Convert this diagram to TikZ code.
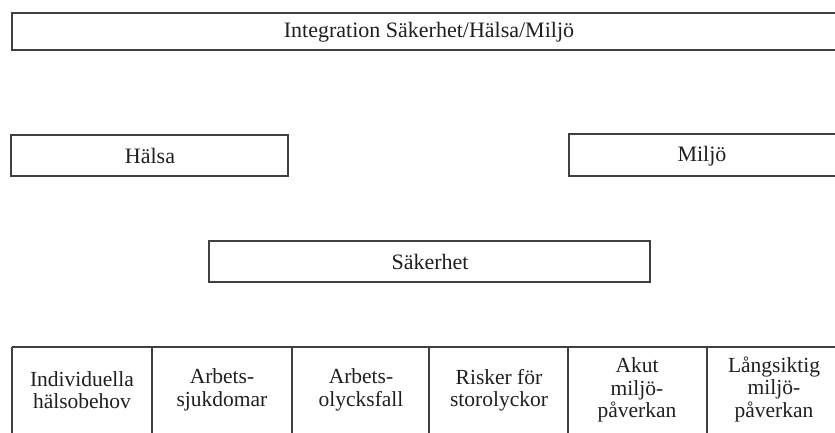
\documentclass[tikz,border=0pt]{standalone}
\usepackage{fontspec}
\setmainfont{Liberation Serif}
\begin{document}
\begin{tikzpicture}[x=1pt,y=-1pt,
  boxline/.style={draw=black!75,line width=2pt},
  lbl/.style={font=\fontsize{22}{23}\selectfont,text=black!88,align=center,inner sep=0pt},
  celltxt/.style={font=\fontsize{21.5}{22.5}\selectfont,text=black!88,align=center,inner sep=0pt}]
\useasboundingbox (0,0) rectangle (835,432);
\clip (0,0) rectangle (835,432);
% top box
\draw[boxline] (12,13) rectangle (860,50);
\node[lbl] (integ) at (429,32) {Integration Säkerhet/Hälsa/Miljö};
% Hälsa
\draw[boxline] (11,135) rectangle (288,176);
\node[lbl] (halsa) at (150,156) {Hälsa};
% Miljö
\draw[boxline] (569,134) rectangle (860,176);
\node[lbl] (miljo) at (702,156) {Miljö};
% Säkerhet
\draw[boxline] (209,241) rectangle (650,282);
\node[lbl] (saker) at (430,262) {Säkerhet};
% bottom row
\draw[boxline] (12,347) -- (860,347);
\foreach \xx in {12,152,292,429,568,707} {
  \draw[boxline] (\xx,347) -- (\xx,440);
}
\node[celltxt] (c1) at (82,390) {Individuella\\hälsobehov};
\node[celltxt] (c2) at (222,390) {Arbets-\\sjukdomar};
\node[celltxt] (c3) at (361,390) {Arbets-\\olycksfall};
\node[celltxt] (c4) at (499,390) {Risker för\\storolyckor};
\node[celltxt] (c5) at (637,390) {Akut\\miljö-\\påverkan};
\node[celltxt] (c6) at (774,389) {Långsiktig\\miljö-\\påverkan};
\end{tikzpicture}
\end{document}
